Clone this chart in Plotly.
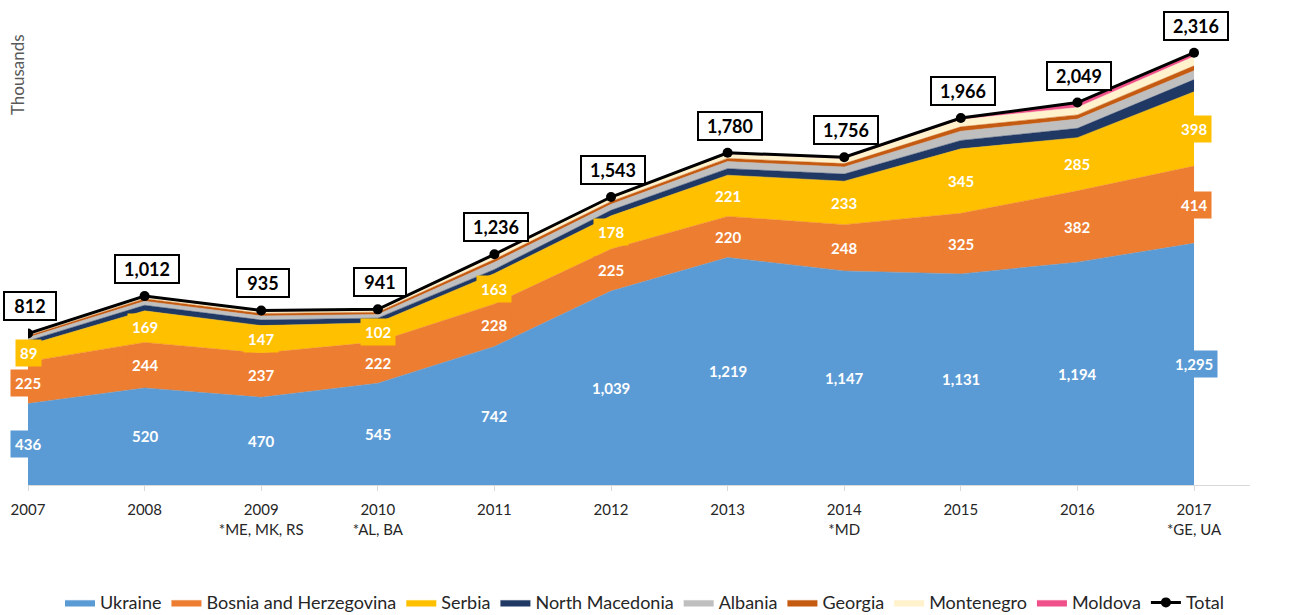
import plotly.graph_objects as go

# Data (thousands)
years = [2007, 2008, 2009, 2010, 2011, 2012, 2013, 2014, 2015, 2016, 2017]
tick_labels = ["2007", "2008", "2009<br>*ME, MK, RS", "2010<br>*AL, BA", "2011", "2012",
               "2013", "2014<br>*MD", "2015", "2016", "2017<br>*GE, UA"]

ukraine = [436, 520, 470, 545, 742, 1039, 1219, 1147, 1131, 1194, 1295]
bosnia = [225, 244, 237, 222, 228, 225, 220, 248, 325, 382, 414]
serbia = [89, 169, 147, 102, 163, 178, 221, 233, 345, 285, 398]
north_macedonia = [22, 30, 30, 25, 22, 30, 35, 38, 45, 50, 65]
albania = [18, 22, 22, 20, 38, 32, 38, 38, 50, 50, 48]
georgia = [10, 13, 13, 12, 16, 15, 17, 18, 23, 22, 26]
montenegro = [8, 10, 11, 10, 20, 20, 24, 26, 39, 40, 50]
moldova = [4, 4, 5, 5, 7, 4, 6, 8, 8, 26, 20]
total = [812, 1012, 935, 941, 1236, 1543, 1780, 1756, 1966, 2049, 2316]

series = [
    ("Ukraine", ukraine, "#5B9BD5"),
    ("Bosnia and Herzegovina", bosnia, "#ED7D31"),
    ("Serbia", serbia, "#FFC000"),
    ("North Macedonia", north_macedonia, "#203864"),
    ("Albania", albania, "#BFBFBF"),
    ("Georgia", georgia, "#C55A11"),
    ("Montenegro", montenegro, "#FFF2CC"),
    ("Moldova", moldova, "#F0508A"),
]
labelled = ["Ukraine", "Bosnia and Herzegovina", "Serbia"]

FONT = "Lato"

fig = go.Figure()
for name, vals, col in series:
    fig.add_trace(go.Scatter(
        x=years, y=vals, name=name, stackgroup="one", mode="lines",
        line=dict(width=0.5, color=col), fillcolor=col, hoverinfo="x+y+name",
    ))

fig.add_trace(go.Scatter(
    x=years, y=total, name="Total", mode="lines+markers",
    line=dict(color="black", width=3), marker=dict(color="black", size=10),
))

annotations = []
# labels inside the three big bands
base = [0] * len(years)
for name, vals, col in series:
    if name in labelled:
        for i, yr in enumerate(years):
            annotations.append(dict(
                x=yr, y=base[i] + vals[i] / 2, text="<b>{:,}</b>".format(vals[i]),
                showarrow=False, bgcolor=col, borderpad=4,
                font=dict(family=FONT, size=15, color="white"),
            ))
    base = [b + v for b, v in zip(base, vals)]

# total labels in boxes
for yr, t in zip(years, total):
    txt = "{:,}".format(t)
    annotations.append(dict(
        x=yr, y=t, yshift=27, xshift=2, text="<b>%s</b>" % txt, showarrow=False,
        bgcolor="white", bordercolor="black", borderwidth=2, borderpad=2,
        width=len(txt) * 6 + 28, height=22,
        font=dict(family=FONT, size=18, color="black"),
    ))

annotations.append(dict(
    xref="paper", yref="paper", x=0, xshift=-11, y=0.863, text="Thousands",
    textangle=-90, showarrow=False, xanchor="center", yanchor="middle",
    font=dict(family=FONT, size=17, color="#595959"),
))

fig.update_layout(
    width=1290, height=615,
    margin=dict(l=28, r=40, t=10, b=130),
    paper_bgcolor="white", plot_bgcolor="white",
    font=dict(family=FONT, color="#262626"),
    showlegend=True,
    legend=dict(orientation="h", x=0.5, xanchor="center", xref="container",
                y=0.02, yanchor="middle", yref="container",
                traceorder="normal", itemwidth=30,
                font=dict(family=FONT, size=18, color="#262626")),
    annotations=annotations,
)
fig.update_xaxes(
    range=[2007, 2017.48], tickvals=years, ticktext=tick_labels, automargin=False,
    showgrid=False, zeroline=False, showline=True, linecolor="#D9D9D9", linewidth=1,
    ticks="outside", ticklen=5, tickcolor="#D9D9D9", ticklabelstandoff=6,
    tickfont=dict(family=FONT, size=15, color="#262626"),
)
fig.update_yaxes(range=[0, 2545], visible=False, automargin=False)

# page has a default 8px body margin; drop it so the figure fills the window
fig.write_html("out.html", config={"displayModeBar": False},
               post_script="document.body.style.margin='0px';")
